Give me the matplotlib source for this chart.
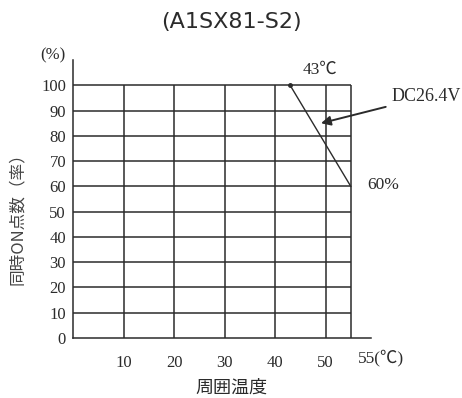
import matplotlib
matplotlib.use("Agg")
import matplotlib.pyplot as plt

# derating curve data
temps = [43, 55]
rates = [100, 60]
y_ticks = [0, 10, 20, 30, 40, 50, 60, 70, 80, 90, 100]
x_ticks = [10, 20, 30, 40, 50]
x_tick_labels = ["10", "20", "30", "40", "50"]
x_grid = [10, 20, 30, 40, 50, 55]

ink = "#2b2b2b"
serif = ["Liberation Serif", "Noto Sans CJK JP"]
cjk = ["Noto Sans CJK JP", "DejaVu Sans"]

fig = plt.figure(figsize=(4.62, 3.98), dpi=100)
fig.patch.set_facecolor("white")
ax = fig.add_axes([0.158, 0.151, 0.645, 0.698])

ax.set_xlim(0, 59)
ax.set_ylim(0, 110)

# grid drawn as plain lines, limited to the 0-55 / 0-100 box
ax.hlines(y_ticks[1:], 0, 55, color=ink, lw=1.1)
ax.vlines(x_grid, 0, 100, color=ink, lw=1.1)

ax.plot(temps, rates, color=ink, lw=1.0)
ax.plot(temps[0], rates[0], "o", color=ink, ms=2.5)

for s in ["top", "right"]:
    ax.spines[s].set_visible(False)
for s in ["left", "bottom"]:
    ax.spines[s].set_color(ink)
    ax.spines[s].set_linewidth(1.1)

ax.set_yticks(y_ticks)
ax.set_yticklabels([str(v) for v in y_ticks], family=serif, fontsize=12, color=ink)
ax.set_xticks(x_ticks)
ax.set_xticklabels(x_tick_labels, family=serif, fontsize=12, color=ink)
ax.tick_params(length=0, pad=5)
ax.tick_params(axis="x", pad=12)

ax.text(56.4, -7.9, "55(℃)", family=serif, fontsize=12.5, color=ink, ha="left", va="center")
ax.text(-4.0, 112, "(%)", family=serif, fontsize=12, color=ink, ha="center", va="center")
ax.text(49, 106, "43℃", family=serif, fontsize=12.5, color=ink, ha="center", va="center")
ax.text(58.3, 60.5, "60%", family=serif, fontsize=12.5, color=ink, ha="left", va="center")

ax.annotate("DC26.4V", xy=(49.1, 85), xytext=(63.0, 95.5),
            family=serif, fontsize=13, color=ink, ha="left", va="center",
            arrowprops=dict(arrowstyle="-|>", color=ink, lw=1.4,
                            mutation_scale=14, shrinkA=2, shrinkB=0),
            annotation_clip=False)

yl = ax.set_ylabel("同時ON点数（率）", family=cjk, fontsize=12, color="#444444")
yl.set_va("center")
ax.yaxis.set_label_coords(-0.185, 0.445)
xl = ax.set_xlabel("周囲温度", family=cjk, fontsize=13, color=ink)
xl.set_va("center")
ax.xaxis.set_label_coords(0.53, -0.18)

fig.text(0.5, 0.945, "(A1SX81-S2)", family="DejaVu Sans", fontsize=16,
         color=ink, ha="center", va="center")

fig.savefig("out.png", dpi=100)
